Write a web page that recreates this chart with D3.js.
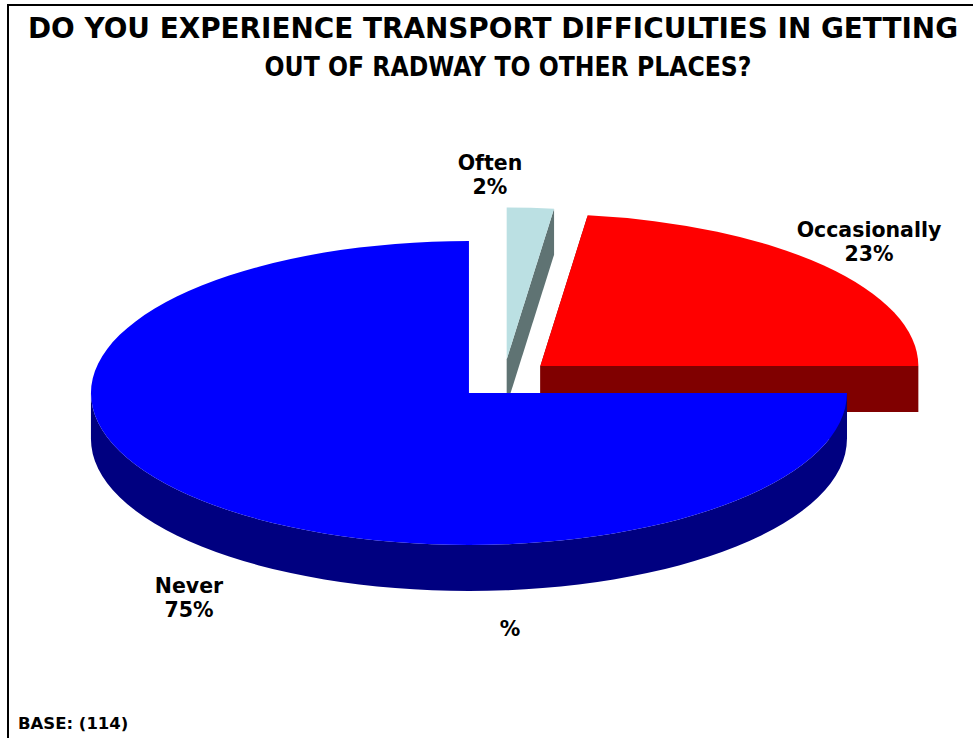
<!DOCTYPE html>
<html><head><meta charset="utf-8">
<script src="https://cdn.jsdelivr.net/npm/d3@7"></script>
<style>body{margin:0;background:#fff}svg{display:block}</style>
</head><body>
<script>
// ---- data ----
const categories = ["Often", "Occasionally", "Never"];
const values = [2, 23, 75];
const valueLabels = ["2%", "23%", "75%"];
const titleLines = ["DO YOU EXPERIENCE TRANSPORT DIFFICULTIES IN GETTING", "OUT OF RADWAY TO OTHER PLACES?"];
const baseNote = "BASE: (114)";
const strayLabel = "%";

// ---- style / layout ----
const topColors = {Often: "#BBE0E3", Occasionally: "#FF0000", Never: "#0000FF"};
const sideColors = {Often: "#5F7373", Occasionally: "#800000", Never: "#000080"};
const labelPos = {Often: [490, 170], Occasionally: [869, 237], Never: [189, 593]};
const titleLayout = [{x: 493, y: 38, w: 930, fs: 28}, {x: 508, y: 76, w: 487, fs: 26}];
const W = 973, H = 738;
const cx = 503.6, cy = 379.1, rx = 378, ry = 152, depth = 46, explode = 49;
const FONT = "'DejaVu Sans', Verdana, sans-serif";

const svg = d3.select("body").append("svg").attr("width", W).attr("height", H);
svg.append("rect").attr("width", W).attr("height", H).attr("fill", "#fff");
svg.append("path").attr("d", `M8,${H} V5 H${W}`).attr("fill", "none").attr("stroke", "#000").attr("stroke-width", 2);

// title
svg.append("g").selectAll("text").data(titleLines).join("text")
  .attr("x", (d, i) => titleLayout[i].x)
  .attr("y", (d, i) => titleLayout[i].y)
  .attr("textLength", (d, i) => titleLayout[i].w)
  .attr("lengthAdjust", "spacingAndGlyphs")
  .attr("text-anchor", "middle")
  .attr("font-family", FONT).attr("font-weight", "bold")
  .attr("font-size", (d, i) => titleLayout[i].fs)
  .text(d => d);

// pie
const pie = d3.pie().sort(null).value(d => d.v);
const arcs = pie(categories.map((c, i) => ({c, v: values[i], label: valueLabels[i]})));
const k = ry / rx;

function pt(a, ox, oy, dz) { return [ox + rx * Math.sin(a), oy - ry * Math.cos(a) + (dz || 0)]; }

arcs.forEach(a => {
  const mid = (a.startAngle + a.endAngle) / 2;
  a.ox = cx + explode * Math.sin(mid);
  a.oy = cy - explode * k * Math.cos(mid);
  a.depthKey = Math.cos(mid);
});

const g = svg.append("g");
arcs.slice().sort((p, q) => q.depthKey - p.depthKey).forEach(a => {
  const c = a.data.c, ox = a.ox, oy = a.oy;
  const s = a.startAngle, e = a.endAngle;
  // radial walls
  [s, e].forEach(ang => {
    const p = pt(ang, ox, oy);
    g.append("path")
      .attr("d", `M${ox},${oy}L${p[0]},${p[1]}L${p[0]},${p[1] + depth}L${ox},${oy + depth}Z`)
      .attr("fill", sideColors[c]);
  });
  // outer wall (front half only)
  const a0 = Math.max(s, Math.PI / 2), a1 = Math.min(e, 3 * Math.PI / 2);
  if (a1 > a0) {
    const p0 = pt(a0, ox, oy), p1 = pt(a1, ox, oy);
    g.append("path")
      .attr("d", `M${p0[0]},${p0[1]}A${rx},${ry} 0 0 1 ${p1[0]},${p1[1]}L${p1[0]},${p1[1] + depth}A${rx},${ry} 0 0 0 ${p0[0]},${p0[1] + depth}Z`)
      .attr("fill", sideColors[c]);
  }
  // top face
  const ps = pt(s, ox, oy), pe = pt(e, ox, oy);
  const large = (e - s) > Math.PI ? 1 : 0;
  g.append("path")
    .attr("d", `M${ox},${oy}L${ps[0]},${ps[1]}A${rx},${ry} 0 ${large} 1 ${pe[0]},${pe[1]}Z`)
    .attr("fill", topColors[c]);
});

// slice labels
const lg = svg.append("g").attr("font-family", FONT).attr("font-weight", "bold").attr("font-size", 20.5).attr("text-anchor", "middle");
arcs.forEach(a => {
  const [x, y] = labelPos[a.data.c];
  lg.append("text").attr("x", x).attr("y", y).text(a.data.c);
  lg.append("text").attr("x", x).attr("y", y + 24).text(a.data.label);
});
lg.append("text").attr("x", 510).attr("y", 636).text(strayLabel);

svg.append("text").attr("x", 18).attr("y", 729)
  .attr("font-family", FONT).attr("font-weight", "bold").attr("font-size", 16.5)
  .text(baseNote);
</script>
</body></html>
